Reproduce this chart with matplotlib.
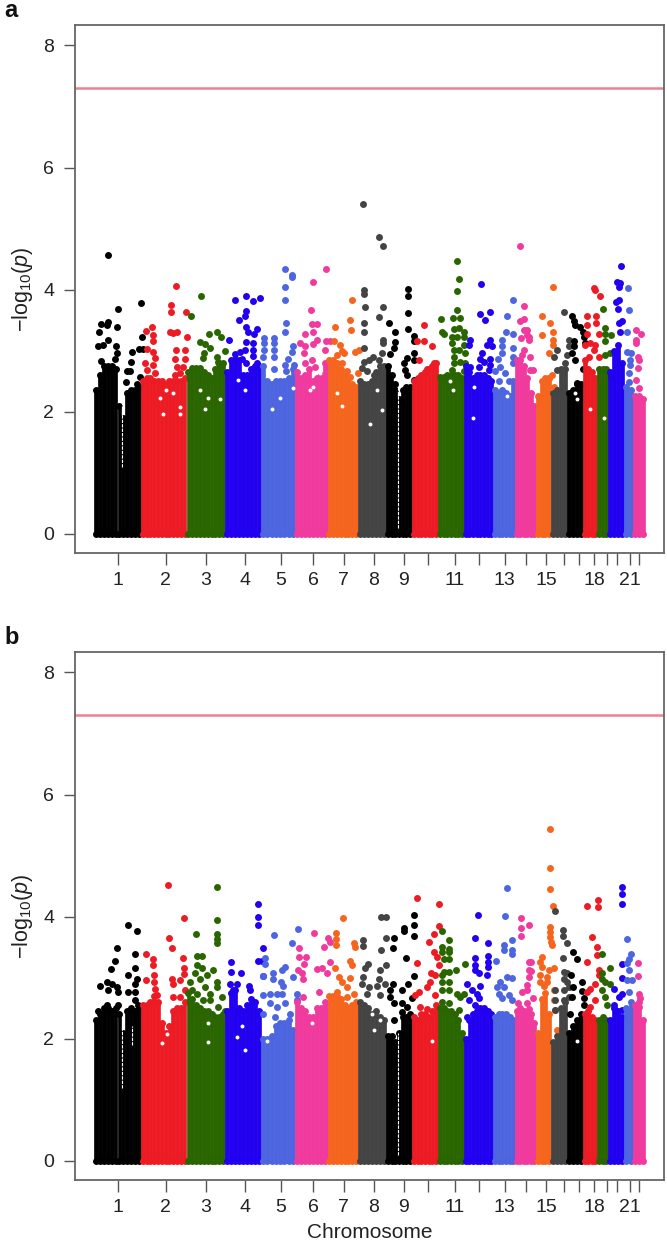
import numpy as np
import matplotlib
matplotlib.use('Agg')
import matplotlib.pyplot as plt

plt.rcParams['font.family'] = ['Liberation Sans', 'DejaVu Sans']
plt.rcParams['mathtext.fontset'] = 'custom'
plt.rcParams['mathtext.rm'] = 'Liberation Sans'
plt.rcParams['mathtext.it'] = 'Liberation Sans:italic'

# chromosome boundaries along the genome axis
chrom_edges = [94, 141, 186.5, 225, 261, 295, 327.5, 358, 386, 412, 438, 464, 493, 515, 536, 551, 567, 583, 597, 608, 624, 633, 645]
tick_pos = [118, 165.5, 206, 245, 281, 313, 343.7, 373.7, 403.7, 428, 454.7, 479, 504.7, 525.7, 546, 563.7, 578.7, 594, 607, 617, 629.7, 639]
tick_labels = ['1', '2', '3', '4', '5', '6', '7', '8', '9', '', '11', '', '13', '', '15', '', '', '18', '', '', '21', '']
chrom_colours = ['#000000', '#ED1C24', '#2A6600', '#2200F0', '#4D66E0', '#F03A9E', '#F5651E', '#444444'] * 3
threshold = 7.3

# height of the dense mass, evenly spaced bins per chromosome
a_solid = [
    [2.35, 2.6, 2.75, 2.75, 2.75, 2.7, 2.1, 1.9, 2.3, 2.35, 2.35, 2.4],
    [2.5, 2.55, 2.55, 2.5, 2.5, 2.5, 2.45, 2.5, 2.5, 2.5, 2.5, 2.55],
    [2.65, 2.72, 2.72, 2.72, 2.65, 2.6, 2.55, 2.7, 2.78, 2.8],
    [2.65, 2.85, 2.95, 2.85, 2.6, 2.6, 2.7, 2.75, 2.75],
    [2.75, 2.5, 2.45, 2.5, 2.5, 2.5, 2.55, 2.7],
    [2.65, 2.55, 2.6, 2.7, 2.5, 2.55, 2.6, 2.8],
    [2.85, 2.85, 2.8, 2.7, 2.6, 2.55, 2.45, 2.4],
    [2.5, 2.45, 2.45, 2.5, 2.65, 2.75, 2.75],
    [2.75, 2.6, 2.35, 2.2, 2.35, 2.4, 2.4],
    [2.5, 2.55, 2.6, 2.65, 2.7, 2.75, 2.8],
    [2.57, 2.57, 2.6, 2.6, 2.6, 2.6, 2.55],
    [2.75, 2.65, 2.55, 2.6, 2.6, 2.6, 2.55, 2.5],
    [2.35, 2.3, 2.35, 2.3, 2.25, 2.5],
    [2.85, 2.85, 2.75, 2.55, 2.3, 2.1],
    [2.25, 2.5, 2.55, 2.55],
    [2.3, 2.35, 2.7, 2.7],
    [2.3, 2.35, 2.45, 2.45],
    [2.85, 2.7, 2.65, 2.55],
    [2.7, 2.7, 2.7],
    [2.65, 3.0, 3.1, 2.8],
    [2.4, 2.35],
    [2.25, 2.25, 2.2],
]
b_solid = [
    [2.3, 2.4, 2.5, 2.5, 2.45, 2.5, 2.4, 2.1, 2.45, 2.5, 2.45, 2.5],
    [2.55, 2.55, 2.6, 2.7, 2.6, 2.25, 2.1, 2.2, 2.45, 2.5, 2.5, 2.6],
    [2.75, 2.65, 2.55, 2.5, 2.45, 2.45, 2.4, 2.35, 2.35, 2.4],
    [2.45, 2.75, 2.8, 2.5, 2.45, 2.55, 2.65, 2.6, 2.45],
    [2.0, 2.0, 2.05, 2.2, 2.25, 2.25, 2.3, 2.15],
    [2.6, 2.5, 2.45, 2.35, 2.35, 2.5, 2.5, 2.6],
    [2.7, 2.7, 2.7, 2.65, 2.55, 2.5, 2.55, 2.6],
    [2.6, 2.55, 2.5, 2.4, 2.45, 2.35, 2.3],
    [2.05, 2.05, 1.95, 2.1, 2.35, 2.35, 2.4],
    [2.35, 2.3, 2.4, 2.4, 2.35, 2.45, 2.55],
    [2.5, 2.5, 2.45, 2.45, 2.4, 2.3, 2.1],
    [2.0, 2.3, 2.4, 2.45, 2.5, 2.5, 2.45, 2.4],
    [2.35, 2.4, 2.4, 2.4, 2.35, 2.3],
    [2.45, 2.5, 2.45, 2.4, 2.4, 2.25],
    [2.1, 2.65, 2.75, 2.4],
    [1.95, 2.05, 2.5, 2.6],
    [2.1, 2.2, 2.3, 2.4],
    [2.4, 2.45, 2.35, 2.3],
    [2.3, 2.35, 2.3],
    [2.3, 2.5, 2.45, 2.35],
    [2.5, 2.6],
    [2.55, 2.6, 2.3],
]

# individual points above the mass: (genome position, -log10 p)
a_dots = [
    [(108,4.57),(118,3.69),(141,3.78),(108,3.47),(101,3.43),(107,3.42),(117,3.39),(99,3.3),(142,3.22),(108,3.17),(98,3.08),(103,3.09),(116,3.08),(139,3.02),(143,3.02),(132,2.97),(117,2.96),(115,2.87),(131,2.82),(101,2.83),(127,2.67),(130,2.66),(126,2.49),(137,2.45),(140,2.57)],
    [(176,4.06),(171,3.75),(171,3.64),(186,3.64),(170,3.31),(173,3.29),(177,3.31),(187,3.23),(146,3.33),(152,3.38),(153,3.26),(153,3.15),(147,3.02),(153,2.98),(155,2.88),(153,2.77),(147,2.68),(155,2.63),(176,3.01),(185,3.01),(175,2.87),(185,2.87),(177,2.74),(183,2.74),(180,2.63),(175,2.6),(145,2.79)],
    [(201,3.9),(191,3.57),(209,3.27),(217,3.31),(221,3.23),(200,3.14),(205,3.11),(210,3.04),(204,2.96),(225,3.0),(217,2.9),(218,2.82),(203,2.88)],
    [(235,3.83),(246,3.9),(253,3.81),(260,3.87),(246,3.65),(245,3.56),(239,3.5),(246,3.39),(248,3.31),(257,3.35),(254,3.28),(229,3.17),(246,3.14),(253,3.12),(240,2.98),(245,3.01),(253,3.01),(253,2.92),(246,2.79),(257,2.8),(242,2.87)],
    [(285,4.33),(292,4.24),(292,4.2),(285,4.05),(285,3.83),(286,3.46),(285,3.31),(264,3.21),(274,3.21),(264,3.12),(274,3.12),(293,3.08),(264,3.01),(274,3.01),(292,2.98),(263,2.9),(274,2.9),(288,2.87),(274,2.7),(285,2.77),(294,2.77),(286,2.66)],
    [(326,4.34),(313,4.13),(311,3.67),(312,3.43),(317,3.43),(313,3.3),(305,3.27),(317,3.18),(326,3.16),(330,3.15),(300,3.12),(313,3.11),(305,3.07),(304,2.96),(325,3.01),(305,2.79),(312,2.85),(315,2.74)],
    [(352,3.83),(350,3.5),(351,3.34),(335,3.39),(355,2.97),(359,3.01),(334,3.15),(340,3.09),(342,3.0),(344,2.96),(337,2.93),(342,2.8),(347,2.66),(350,2.57),(358,2.63)],
    [(363,5.4),(379,4.87),(383,4.72),(364,4.0),(364,3.92),(365,3.71),(383,3.72),(379,3.55),(364,3.46),(364,3.31),(383,3.17),(383,3.12),(364,3.04),(382,2.96),(364,2.82),(369,2.85),(362,2.71),(367,2.66),(373,2.9),(374,2.6),(379,2.85)],
    [(408,4.01),(408,3.9),(408,3.61),(389,3.46),(395,3.3),(408,3.35),(414,3.24),(414,3.15),(395,3.14),(394,3.05),(390,2.94),(414,2.96),(414,2.85),(407,2.88),(404,2.79),(405,2.68),(407,2.6),(414,2.52),(395,2.45)],
    [(424,3.42),(417,3.16),(424,3.15),(432,3.07),(419,2.85),(427,2.7),(434,2.8)],
    [(457,4.47),(459,4.17),(457,3.98),(457,3.67),(441,3.52),(453,3.53),(460,3.53),(442,3.31),(444,3.27),(454,3.35),(459,3.37),(464,3.31),(452,3.23),(457,3.23),(464,3.23),(452,3.12),(464,3.09),(454,3.01),(459,3.01),(454,2.9),(465,2.96),(454,2.79),(460,2.82),(465,2.79),(452,2.68),(464,2.66)],
    [(481,4.09),(480,3.6),(490,3.63),(485,3.5),(470,3.18),(469,3.09),(490,3.18),(487,3.09),(492,3.07),(482,2.96),(480,2.87),(490,2.87),(484,2.82),(490,2.77),(470,2.74),(479,2.74),(489,2.68)],
    [(513,3.83),(507,3.56),(506,3.3),(513,3.27),(502,3.18),(502,3.07),(513,3.04),(498,2.87),(502,2.96),(513,2.9),(513,2.79),(500,2.74),(495,2.66),(505,2.63),(499,2.5),(509,2.5)],
    [(520,4.72),(524,3.73),(524,3.52),(520,3.49),(527,3.34),(524,3.34),(527,3.26),(529,3.23),(529,3.18),(521,3.2),(524,3.01),(522,2.93),(530,2.9),(530,2.68),(533,2.68)],
    [(553,4.05),(542,3.56),(550,3.46),(553,3.31),(542,3.26),(553,3.18),(553,3.09),(549,2.96),(552,2.6),(549,2.55),(554,2.41)],
    [(557,3.01),(554,2.9),(557,2.68),(569,3.18),(569,3.07),(567,2.93),(565,2.8),(564,3.64)],
    [(572,3.57),(574,3.48),(575,3.42),(580,3.39),(583,3.31),(584,3.23),(585,3.13),(574,3.15),(574,3.07),(572,2.96),(575,2.85),(583,2.7),(577,2.47)],
    [(594,4.03),(595,4.0),(600,3.9),(587,3.56),(596,3.56),(596,3.45),(587,3.42),(587,3.28),(599,3.28),(585,3.09),(590,3.12),(595,3.09),(594,3.01),(589,2.9),(599,2.9)],
    [(603,3.69),(605,3.37),(605,3.28),(611,3.26),(605,3.15),(610,2.96),(605,2.93),(610,2.57)],
    [(621,4.38),(617,4.13),(620,4.11),(619,4.05),(619,3.83),(616,3.79),(618,3.68),(622,3.49),(619,3.46),(620,3.31)],
    [(628,4.03),(629,3.66),(627,3.3),(627,2.97),(631,2.96),(630,2.85),(630,2.77),(629,2.63),(629,2.49)],
    [(636,3.34),(641,3.27),(636,3.18),(636,3.12),(638,2.9),(639,2.85),(638,2.71),(636,2.52),(639,2.38)],
]
b_dots = [
    [(128,3.86),(137,3.76),(117,3.49),(115,3.27),(135,3.38),(111,3.14),(135,3.15),(128,3.05),(100,2.86),(107,2.93),(112,2.9),(117,2.85),(137,2.98),(135,2.9),(108,2.79),(118,2.77),(128,2.77),(135,2.77),(107,2.55),(118,2.55),(98,2.45),(135,2.63),(138,2.55)],
    [(168,4.52),(184,3.97),(169,3.65),(172,3.49),(146,3.39),(153,3.31),(153,3.21),(183,3.32),(184,3.15),(184,3.06),(146,2.96),(154,3.04),(154,2.93),(172,2.98),(173,2.9),(180,2.96),(155,2.82),(185,2.79),(173,2.68),(180,2.68),(157,2.71)],
    [(217,4.48),(217,3.94),(196,3.71),(217,3.72),(217,3.64),(217,3.56),(197,3.35),(202,3.36),(197,3.21),(202,3.16),(213,3.13),(195,3.07),(207,3.04),(200,2.98),(190,2.93),(217,2.93),(217,2.85),(205,2.85),(192,2.79),(197,2.74),(210,2.74),(222,2.68),(210,2.63),(203,2.63),(218,2.52),(225,2.45)],
    [(258,4.21),(258,4.0),(258,3.87),(263,3.49),(231,3.26),(258,3.28),(262,3.27),(231,3.09),(241,3.08),(230,2.9),(237,2.9),(249,2.87),(263,3.02),(233,2.79),(250,2.79)],
    [(298,3.8),(274,3.7),(292,3.57),(265,3.32),(265,3.23),(285,3.18),(273,3.07),(282,3.12),(263,3.02),(293,3.01),(273,2.98),(281,2.93),(283,2.87),(263,2.71),(270,2.74),(277,2.74),(297,2.74),(282,2.74),(270,2.58),(285,2.58),(297,2.63),(277,2.52),(263,2.41),(275,2.36),(290,2.41)],
    [(314,3.73),(299,3.49),(324,3.51),(328,3.65),(330,3.58),(299,3.34),(306,3.34),(304,3.23),(330,3.25),(317,3.14),(322,3.15),(298,3.12),(302,3.07),(303,2.98),(319,2.76),(327,3.07),(303,2.68)],
    [(343,3.97),(336,3.73),(336,3.64),(336,3.54),(354,3.57),(355,3.5),(350,3.28),(352,3.2),(335,3.15),(339,3.01),(350,2.99),(342,2.93),(347,2.85),(354,2.74),(337,2.77),(347,2.68),(352,2.52),(342,2.52),(345,2.41)],
    [(381,4.0),(386,3.99),(363,3.61),(363,3.52),(386,3.65),(381,3.45),(386,3.2),(368,3.23),(365,3.15),(380,3.13),(363,3.01),(362,2.9),(379,2.98),(369,2.85),(377,2.87),(385,2.9),(367,2.74),(380,2.71)],
    [(414,4.03),(414,3.86),(414,3.69),(404,3.82),(404,3.76),(394,3.65),(393,3.49),(406,3.33),(414,3.03),(393,2.9),(390,2.79),(408,2.89),(402,2.8),(412,2.67),(390,2.68),(394,2.58),(402,2.58),(407,2.52),(402,2.44),(394,2.3)],
    [(417,4.31),(439,4.2),(439,3.85),(434,3.72),(429,3.58),(434,3.42),(417,3.24),(437,3.34),(439,3.2),(431,3.07),(435,3.04),(430,2.93),(419,2.77),(415,2.71),(435,2.71),(427,2.85),(420,2.52),(427,2.49)],
    [(442,3.76),(449,3.62),(442,3.5),(449,3.47),(442,3.42),(449,3.42),(444,3.31),(449,3.31),(465,3.23),(456,3.13),(444,3.09),(442,3.04),(449,3.09),(442,2.93),(449,2.93),(442,2.79),(449,2.79),(457,2.73),(464,2.74),(460,2.68),(442,2.6),(449,2.58),(459,2.47)],
    [(478,4.02),(475,3.65),(488,3.57),(475,3.33),(488,3.35),(488,3.26),(488,3.18),(487,3.05),(475,3.2),(475,3.12),(479,3.07),(467,2.9),(472,2.79),(480,2.86),(477,2.74),(469,2.63),(479,2.66),(475,2.55),(467,2.36)],
    [(507,4.47),(505,4.01),(512,3.62),(504,3.53),(504,3.46),(512,3.46),(512,3.38),(496,3.28),(507,3.01),(512,3.0),(500,2.93),(497,2.85),(504,2.85),(499,2.74),(509,2.71),(502,2.66),(512,2.63)],
    [(521,3.97),(529,3.86),(521,3.81),(521,3.68),(529,3.25),(531,3.25),(529,3.13),(531,3.11),(529,3.01),(527,2.88),(527,2.8),(522,2.77),(533,2.66),(518,2.59),(527,2.59),(520,2.47),(529,2.49)],
    [(550,5.44),(550,4.79),(550,4.46),(553,4.17),(550,3.83),(550,3.75),(550,3.67),(551,3.58),(552,3.53),(542,3.34),(540,3.26),(542,3.18),(549,3.12),(554,3.16),(540,3.04),(547,3.01),(540,2.93),(547,2.93),(544,2.87),(554,2.79),(554,2.63),(555,2.47),(557,2.14)],
    [(555,4.09),(563,3.78),(563,3.69),(567,3.57),(563,3.32),(564,3.09),(567,3.07),(564,2.98),(567,2.93),(569,2.85),(564,2.79),(569,2.68),(564,2.63),(555,2.8),(555,2.63),(555,2.47)],
    [(573,3.42),(577,3.3),(571,3.04),(573,2.85),(582,2.93),(582,2.78),(572,2.68),(584,2.66),(584,2.55),(570,2.41)],
    [(587,4.17),(598,4.27),(598,4.16),(592,3.67),(597,3.5),(587,3.25),(597,3.37),(599,3.12),(599,3.04),(595,2.9),(590,2.82),(587,2.77),(595,2.63),(590,2.52)],
    [(602,3.38),(610,3.16),(602,3.07),(602,2.98),(605,2.93),(610,2.9),(602,2.79),(605,2.68),(607,2.55)],
    [(622,4.48),(622,4.37),(622,4.21),(622,3.23),(622,3.0),(614,2.82),(622,2.74),(619,2.68),(614,2.55),(622,2.47)],
    [(627,3.64),(631,3.38),(629,3.31),(627,3.24),(629,3.12),(627,2.96),(632,2.96),(629,2.77)],
    [(638,3.24),(638,3.03),(639,2.74),(640,2.66),(639,2.52)],
]

# white gaps inside the mass: (position, value)
a_holes = [(160,2.22),(166,2.36),(173,2.3),(180,2.08),(180,1.97),(163,1.97),(208,2.22),(200,2.36),(220,2.2),(205,2.05),(238,2.52),(245,2.36),(272,2.05),(280,2.22),(293,2.38),(313,2.41),(320,2.63),(310,2.36),(337,2.3),(342,2.1),(370,1.8),(382,2.03),(377,2.35),(575,2.3),(577,2.2),(590,2.05),(604,1.9),(450,2.5),(453,2.36),(474,2.4),(473,1.9),(507,2.25)]
b_holes = [(162,1.93),(167,2.08),(208,2.25),(208,1.95),(237,2.03),(245,1.81),(267,1.97),(312,2.25),(374,2.14),(432,1.97),(577,1.97),(380,2.3),(372,2.4),(242,2.2)]
# centromere slivers: position, from, to
a_gaps = [(122,1.1,2.3),(398,0.1,2.4)]
b_gaps = [(122,1.2,2.2),(132,1.9,2.2),(398,0.1,2.1)]


def draw_panel(ax, solid, dots, holes, gaps, letter):
    for i, col in enumerate(chrom_colours[:22]):
        x0, x1 = chrom_edges[i], chrom_edges[i + 1]
        heights = solid[i]
        w = (x1 - x0) / len(heights)
        xs = x0 + w * (np.arange(len(heights)) + 0.5)
        ax.bar(xs, np.array(heights) + 0.03, width=w, bottom=-0.03, color=col, edgecolor=col, linewidth=0.5, zorder=2)
        ax.scatter(xs, heights, s=25, color=col, linewidths=0, zorder=2)
        ax.scatter(xs, np.zeros(len(xs)), s=25, color=col, linewidths=0, zorder=2)
        px, py = zip(*dots[i])
        ax.scatter(px, py, s=25, color=col, linewidths=0, zorder=2)
    hx, hy = zip(*holes)
    ax.scatter(hx, hy, s=8, color='white', linewidths=0, zorder=3)
    for g in gaps:
        ax.vlines(g[0], g[1], g[2], color='white', linewidth=0.8, linestyles=(0, (3, 1)), zorder=3)

    ax.axhline(threshold, color='#F0808F', linewidth=1.8, zorder=1)
    ax.set_xlim(75, 664)
    ax.set_ylim(-0.315, 8.335)
    ax.set_xticks(tick_pos)
    ax.set_xticklabels(tick_labels)
    ax.set_yticks([0, 2, 4, 6, 8])
    ax.tick_params(axis='x', length=8.5, width=1, color='#555555', pad=5, labelsize=14, labelcolor='#222222')
    ax.tick_params(axis='y', length=8, width=1, color='#555555', pad=7, labelsize=14, labelcolor='#222222')
    for s in ax.spines.values():
        s.set_color('#666666')
        s.set_linewidth(1.3)
    ax.set_ylabel(r'$\mathregular{-log_{10}(}\mathit{p}\mathregular{)}$', fontsize=15.5, color='#222222', labelpad=6)
    ax.text(-0.12, 1.016, letter, transform=ax.transAxes, fontsize=17, fontweight='bold', color='#111111', va='baseline')


W, H = 667, 1249
fig = plt.figure(figsize=(W / 100, H / 100), dpi=100)
ax_a = fig.add_axes([75 / W, 1 - 553 / H, 589 / W, 528 / H])
ax_b = fig.add_axes([75 / W, 1 - 1180 / H, 589 / W, 528 / H])
draw_panel(ax_a, a_solid, a_dots, a_holes, a_gaps, 'a')
draw_panel(ax_b, b_solid, b_dots, b_holes, b_gaps, 'b')
ax_b.set_xlabel('Chromosome', fontsize=15, color='#222222', labelpad=5)
fig.savefig('out.png', dpi=100, facecolor='white')
